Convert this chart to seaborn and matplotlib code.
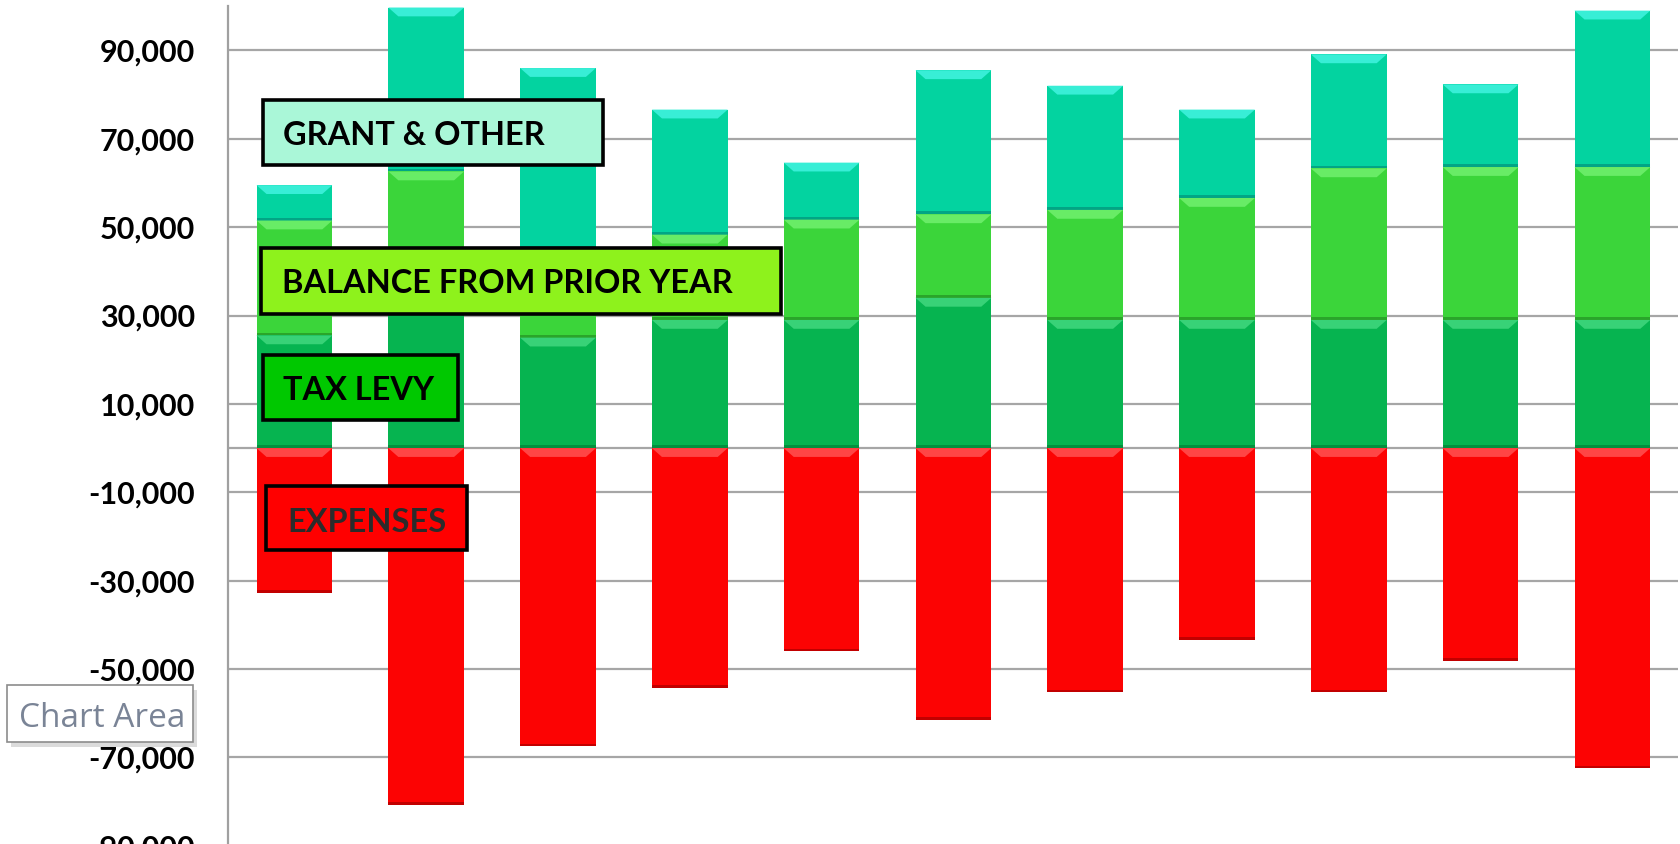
import numpy as np
import pandas as pd
import matplotlib
matplotlib.use('Agg')
import matplotlib.pyplot as plt
from matplotlib.patches import Rectangle, Polygon
import seaborn as sns

# ---------------------------------------------------------------------------
# data (values in dollars)
# ---------------------------------------------------------------------------
periods = [f"P{i}" for i in range(1, 12)]
tax_levy = [25500, 34000, 25000, 29000, 29000, 34000, 29000, 29000, 29000, 29000, 29000]
balance_prior = [26000, 28600, 20000, 19300, 22700, 18900, 24900, 27600, 34300, 34600, 34600]
grant_other = [8000, 37100, 41000, 28300, 12900, 32600, 28100, 20000, 25800, 18700, 35400]
expenses = [-32800, -80800, -67500, -54300, -46000, -61500, -55300, -43400, -55300, -48200, -72500]

y_ticks = list(range(-90000, 100000, 20000))

df = pd.DataFrame({
    'period': periods,
    'tax': tax_levy,
    'balance': balance_prior,
    'grant': grant_other,
    'expenses': expenses,
})
df['zero'] = 0
df['tax_top'] = df['tax']
df['balance_top'] = df['tax_top'] + df['balance']
df['grant_top'] = df['balance_top'] + df['grant']

# ---------------------------------------------------------------------------
# figure
# ---------------------------------------------------------------------------
W, H = 1681, 844
sns.set_theme(style='white')
plt.rcParams['font.family'] = ['Lato', 'DejaVu Sans']

fig = plt.figure(figsize=(W / 100, H / 100), dpi=100)
fig.patch.set_facecolor('white')
ax = fig.add_axes([228.5 / W, 1 - 890 / H, 1449.8 / W, (890 - 6.2) / H])

# (top column, bottom column, base, highlight, dark edge)
layers = [
    ('grant_top', 'balance_top', '#03d3a0', '#38eed6', '#02a585'),
    ('balance_top', 'tax_top', '#3bd53a', '#68ec66', '#2aa52a'),
    ('tax_top', 'zero', '#06b450', '#38d277', '#03903e'),
    ('expenses', 'zero', '#fc0303', '#ff4545', '#c20000'),
]

dx = 0.076      # bevel inset, category units
for top_col, bot_col, base, light, dark in layers:
    sns.barplot(data=df, x='period', y=top_col, color=base, saturation=1,
                width=0.575, errorbar=None, linewidth=0, edgecolor='none',
                zorder=2, ax=ax)
    rects = ax.containers[-1]
    for rect, a, b in zip(rects, df[top_col], df[bot_col]):
        seg_top, seg_bot = max(a, b), min(a, b)
        x0 = rect.get_x()
        x1 = x0 + rect.get_width()
        dy = min(2000, (seg_top - seg_bot) * 0.3)
        ax.add_patch(Polygon([(x0, seg_top), (x1, seg_top),
                              (x1 - dx, seg_top - dy), (x0 + dx, seg_top - dy)],
                             closed=True, facecolor=light, edgecolor='none', zorder=3))
        ax.add_patch(Rectangle((x0, seg_bot), x1 - x0, 650,
                               facecolor=dark, edgecolor='none', zorder=3))

ax.axhline(0, color='#a6a6a6', lw=1.6, zorder=1.5)
ax.set_xlim(-0.5, 10.5)
ax.set_ylim(-100000, 100000)
ax.set_xticks([])
ax.set_xlabel('')
ax.set_ylabel('')
ax.set_yticks(y_ticks, labels=[f"{v:,}" for v in y_ticks],
              fontsize=22, fontweight='bold', color='black')
ax.tick_params(axis='y', length=0, pad=24)
ax.yaxis.grid(True, color='#a6a6a6', lw=1.6)
ax.set_axisbelow(True)
for side in ['top', 'right', 'bottom']:
    ax.spines[side].set_visible(False)
ax.spines['left'].set_color('#a0a0a0')
ax.spines['left'].set_linewidth(1.6)


# ---------------------------------------------------------------------------
# series labels drawn as boxes on top of the chart
# ---------------------------------------------------------------------------
def box_px(x0, y0, x1, y1, **kw):
    r = Rectangle((x0 / W, 1 - y1 / H), (x1 - x0) / W, (y1 - y0) / H,
                  transform=fig.transFigure, **kw)
    fig.add_artist(r)


def text_px(x, baseline, s, **kw):
    fig.text(x / W, 1 - baseline / H, s, ha='left', va='baseline', **kw)


labels = [
    # x0, y0, x1, y1, fill, text, text x, baseline, text colour
    (263, 100, 603, 165, '#aaf7d8', 'GRANT & OTHER', 283, 145, 'black'),
    (261, 247.5, 780.5, 314, '#8ef21c', 'BALANCE FROM PRIOR YEAR', 282, 293.3, 'black'),
    (263, 354.5, 457.5, 420.5, '#00c800', 'TAX LEVY', 283, 400, 'black'),
    (266, 485.5, 467.5, 550, '#ff0000', 'EXPENSES', 287, 531.5, '#2b2b2b'),
]
for x0, y0, x1, y1, fill, s, tx, tb, tc in labels:
    box_px(x0, y0, x1, y1, facecolor=fill, edgecolor='black', lw=2.6, zorder=5)
    text_px(tx, tb, s, fontsize=23.4, fontweight='bold', color=tc, zorder=6)

# "Chart Area" tooltip left over in the screenshot
box_px(11, 690, 197, 746.5, facecolor='#c4c4c4', edgecolor='none', alpha=0.6, zorder=5)
box_px(6.7, 685, 192.7, 741.7, facecolor='white', edgecolor='#8c8c8c', lw=1.2, zorder=5)
text_px(19.3, 726.7, 'Chart Area', fontsize=24, color='#7a8496',
        family=['Open Sans', 'DejaVu Sans'], zorder=6)

fig.savefig('out.png', dpi=100)
